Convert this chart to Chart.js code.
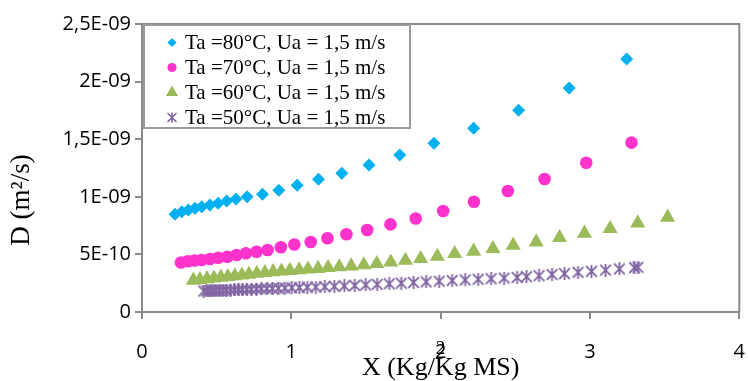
<!DOCTYPE html>
<html><head><meta charset="utf-8">
<script src="https://cdn.jsdelivr.net/npm/chart.js@4.4.0/dist/chart.umd.min.js"></script>
<style>html,body{margin:0;padding:0;background:#fff;}#wrap{width:748px;height:381px;}</style>
</head><body><div id="wrap"><canvas id="c" width="748" height="381"></canvas></div>
<script>
const seriesNames = ['Ta =80°C, Ua = 1,5 m/s','Ta =70°C, Ua = 1,5 m/s','Ta =60°C, Ua = 1,5 m/s','Ta =50°C, Ua = 1,5 m/s'];
const x80 = [0.221,0.266,0.310,0.355,0.400,0.455,0.510,0.567,0.629,0.704,0.807,0.916,1.039,1.182,1.338,1.520,1.726,1.955,2.221,2.522,2.861,3.246];
const d80 = [0.848e-9,0.871e-9,0.885e-9,0.900e-9,0.914e-9,0.929e-9,0.944e-9,0.964e-9,0.981e-9,1.001e-9,1.022e-9,1.056e-9,1.100e-9,1.152e-9,1.204e-9,1.276e-9,1.363e-9,1.464e-9,1.595e-9,1.751e-9,1.944e-9,2.196e-9];
const x70 = [0.261,0.308,0.351,0.399,0.455,0.510,0.571,0.633,0.696,0.767,0.841,0.930,1.020,1.130,1.242,1.369,1.508,1.664,1.833,2.017,2.223,2.450,2.696,2.975,3.278];
const d70 = [0.430e-9,0.440e-9,0.447e-9,0.451e-9,0.460e-9,0.471e-9,0.480e-9,0.495e-9,0.510e-9,0.523e-9,0.538e-9,0.562e-9,0.586e-9,0.608e-9,0.640e-9,0.675e-9,0.712e-9,0.761e-9,0.812e-9,0.877e-9,0.957e-9,1.050e-9,1.155e-9,1.296e-9,1.470e-9];
const x60 = [0.344,0.388,0.435,0.482,0.528,0.575,0.622,0.669,0.716,0.769,0.823,0.878,0.934,0.990,1.052,1.112,1.179,1.246,1.321,1.401,1.485,1.572,1.666,1.764,1.866,1.978,2.094,2.221,2.350,2.486,2.640,2.796,2.963,3.135,3.320,3.520];
const d60 = [0.275e-9,0.281e-9,0.288e-9,0.294e-9,0.301e-9,0.307e-9,0.314e-9,0.320e-9,0.327e-9,0.334e-9,0.342e-9,0.349e-9,0.355e-9,0.360e-9,0.366e-9,0.372e-9,0.377e-9,0.385e-9,0.392e-9,0.399e-9,0.408e-9,0.420e-9,0.433e-9,0.448e-9,0.463e-9,0.483e-9,0.507e-9,0.527e-9,0.550e-9,0.579e-9,0.607e-9,0.645e-9,0.683e-9,0.724e-9,0.772e-9,0.822e-9];
const x50 = [0.414,0.434,0.455,0.475,0.495,0.518,0.542,0.565,0.592,0.619,0.646,0.672,0.702,0.732,0.766,0.799,0.836,0.873,0.913,0.957,1.003,1.054,1.107,1.164,1.224,1.288,1.355,1.425,1.498,1.575,1.656,1.736,1.819,1.903,1.990,2.077,2.164,2.251,2.338,2.425,2.512,2.575,2.659,2.746,2.829,2.920,3.010,3.104,3.197,3.298,3.321];
const d50 = [0.182e-9,0.183e-9,0.184e-9,0.185e-9,0.186e-9,0.187e-9,0.188e-9,0.189e-9,0.190e-9,0.192e-9,0.193e-9,0.194e-9,0.195e-9,0.197e-9,0.199e-9,0.201e-9,0.202e-9,0.204e-9,0.206e-9,0.208e-9,0.210e-9,0.212e-9,0.215e-9,0.217e-9,0.220e-9,0.223e-9,0.226e-9,0.230e-9,0.235e-9,0.240e-9,0.245e-9,0.250e-9,0.256e-9,0.261e-9,0.267e-9,0.273e-9,0.278e-9,0.284e-9,0.289e-9,0.295e-9,0.300e-9,0.306e-9,0.315e-9,0.325e-9,0.333e-9,0.344e-9,0.353e-9,0.364e-9,0.374e-9,0.385e-9,0.388e-9];
const xTickValues = [0,1,2,3,4];
const xTickLabels = ['0','1','2','3','4'];
const yTickValues = [0,5e-10,1e-9,1.5e-9,2e-9,2.5e-9];
const yTickLabels = ['0','5E-10','1E-09','1,5E-09','2E-09','2,5E-09'];
const xTitle = 'X (Kg/Kg MS)';
const yTitle = 'D (m²/s)';
const strayText = '2';

const COLORS = ['#00B0F0','#FF33CC','#9BBB59','#8064A2'];
const AXIS = '#8a8a8a';

function makeStar(size, lw, color){
  const c = document.createElement('canvas'); c.width = size; c.height = size;
  const g = c.getContext('2d'); g.strokeStyle = color; g.lineWidth = lw;
  const m = 1.2;
  g.beginPath();
  g.moveTo(m,m); g.lineTo(size-m,size-m);
  g.moveTo(size-m,m); g.lineTo(m,size-m);
  g.moveTo(size/2,0); g.lineTo(size/2,size);
  g.stroke();
  return c;
}
const starBig = makeStar(13, 1.8, COLORS[3]);

function pts(xs, ys){ return xs.map((x,i)=>({x:x, y:ys[i]})); }

const datasets = [
  {label:seriesNames[0], data:pts(x80,d80), pointStyle:'rectRot', pointRadius:6.5, backgroundColor:COLORS[0], borderColor:COLORS[0], borderWidth:0, order:4},
  {label:seriesNames[1], data:pts(x70,d70), pointStyle:'circle', pointRadius:6.3, backgroundColor:COLORS[1], borderColor:COLORS[1], borderWidth:0, order:3},
  {label:seriesNames[2], data:pts(x60,d60), pointStyle:'triangle', pointRadius:8.7, backgroundColor:COLORS[2], borderColor:COLORS[2], borderWidth:0, order:2},
  {label:seriesNames[3], data:pts(x50,d50), pointStyle:starBig, pointRadius:6.5, backgroundColor:COLORS[3], borderColor:COLORS[3], borderWidth:0, order:1}
];

function drawLegendMarker(ctx, i, x, y){
  ctx.save();
  ctx.fillStyle = COLORS[i]; ctx.strokeStyle = COLORS[i];
  ctx.beginPath();
  if (i===0){ const r=4.6; ctx.moveTo(x,y-r); ctx.lineTo(x+r,y); ctx.lineTo(x,y+r); ctx.lineTo(x-r,y); ctx.closePath(); ctx.fill(); }
  else if (i===1){ ctx.arc(x,y,4.6,0,Math.PI*2); ctx.fill(); }
  else if (i===2){ const r=7; ctx.moveTo(x,y-r); ctx.lineTo(x+r*0.866,y+r*0.5); ctx.lineTo(x-r*0.866,y+r*0.5); ctx.closePath(); ctx.fill(); }
  else { const s=4.5; ctx.lineWidth=1.6; ctx.moveTo(x-s,y-s); ctx.lineTo(x+s,y+s); ctx.moveTo(x+s,y-s); ctx.lineTo(x-s,y+s); ctx.moveTo(x,y-s-0.5); ctx.lineTo(x,y+s+0.5); ctx.stroke(); }
  ctx.restore();
}

const framePlugin = {
  id:'frame',
  beforeDatasetsDraw(chart){
    const {ctx, chartArea:a} = chart;
    ctx.save(); ctx.strokeStyle = AXIS; ctx.lineWidth = 2;
    ctx.beginPath(); ctx.moveTo(a.left, a.top); ctx.lineTo(a.right, a.top); ctx.lineTo(a.right, a.bottom); ctx.stroke();
    ctx.restore();
  },
  afterDatasetsDraw(chart){
    const {ctx, chartArea:a} = chart;
    ctx.save();
    const bx = a.left+2, by = a.top+1, bw = 266, bh = 103;
    ctx.fillStyle='#fff'; ctx.fillRect(bx,by,bw,bh);
    ctx.strokeStyle='#9a9a9a'; ctx.lineWidth=2; ctx.strokeRect(bx,by,bw,bh);
    ctx.font = '21px "Liberation Serif"'; ctx.textBaseline='middle'; ctx.textAlign='left'; ctx.fillStyle='#000';
    chart.data.datasets.forEach((ds,i)=>{
      const y = by + 17.5 + i*25;
      drawLegendMarker(ctx, i, a.left+30, y);
      ctx.fillText(ds.label, a.left+43, y+1);
    });
    ctx.textAlign='center';
    ctx.font = '26px "Liberation Serif"';
    ctx.fillText(xTitle, (a.left+a.right)/2, 368);
    ctx.font = '19px "Liberation Serif"';
    ctx.fillText(strayText, 440.5, 349);
    ctx.save();
    ctx.translate(22, 200); ctx.rotate(-Math.PI/2);
    ctx.font = '27px "Liberation Serif"';
    ctx.fillText(yTitle, 0, 0);
    ctx.restore();
    ctx.restore();
  }
};

new Chart(document.getElementById('c'), {
  type:'scatter',
  data:{datasets},
  plugins:[framePlugin],
  options:{
    responsive:false, animation:false, devicePixelRatio:1,
    layout:{padding:{left:0, top:24, right:8, bottom:0}},
    plugins:{legend:{display:false}, tooltip:{enabled:false}},
    elements:{point:{hoverRadius:0}},
    scales:{
      x:{type:'linear', min:0, max:4,
        afterBuildTicks:s=>{s.ticks = xTickValues.map(v=>({value:v}));},
        afterFit:s=>{s.height = 69; s.paddingLeft = 0; s.paddingRight = 0;},
        ticks:{callback:(v,i)=>xTickLabels[i], font:{family:'Open Sans', size:20}, color:'#000', padding:21, maxRotation:0, autoSkip:false},
        grid:{drawOnChartArea:false, drawTicks:true, tickLength:7, color:AXIS, lineWidth:2},
        border:{display:true, color:AXIS, width:2},
        title:{display:false}
      },
      y:{type:'linear', min:0, max:2.5e-9,
        afterBuildTicks:s=>{s.ticks = yTickValues.map(v=>({value:v}));},
        afterFit:s=>{s.width = 142; s.paddingTop = 0; s.paddingBottom = 0;},
        ticks:{callback:(v,i)=>yTickLabels[i], font:{family:'Open Sans', size:20}, color:'#000', padding:4, autoSkip:false},
        grid:{drawOnChartArea:false, drawTicks:true, tickLength:7, color:AXIS, lineWidth:2},
        border:{display:true, color:AXIS, width:2},
        title:{display:false}
      }
    }
  }
});
</script></body></html>
